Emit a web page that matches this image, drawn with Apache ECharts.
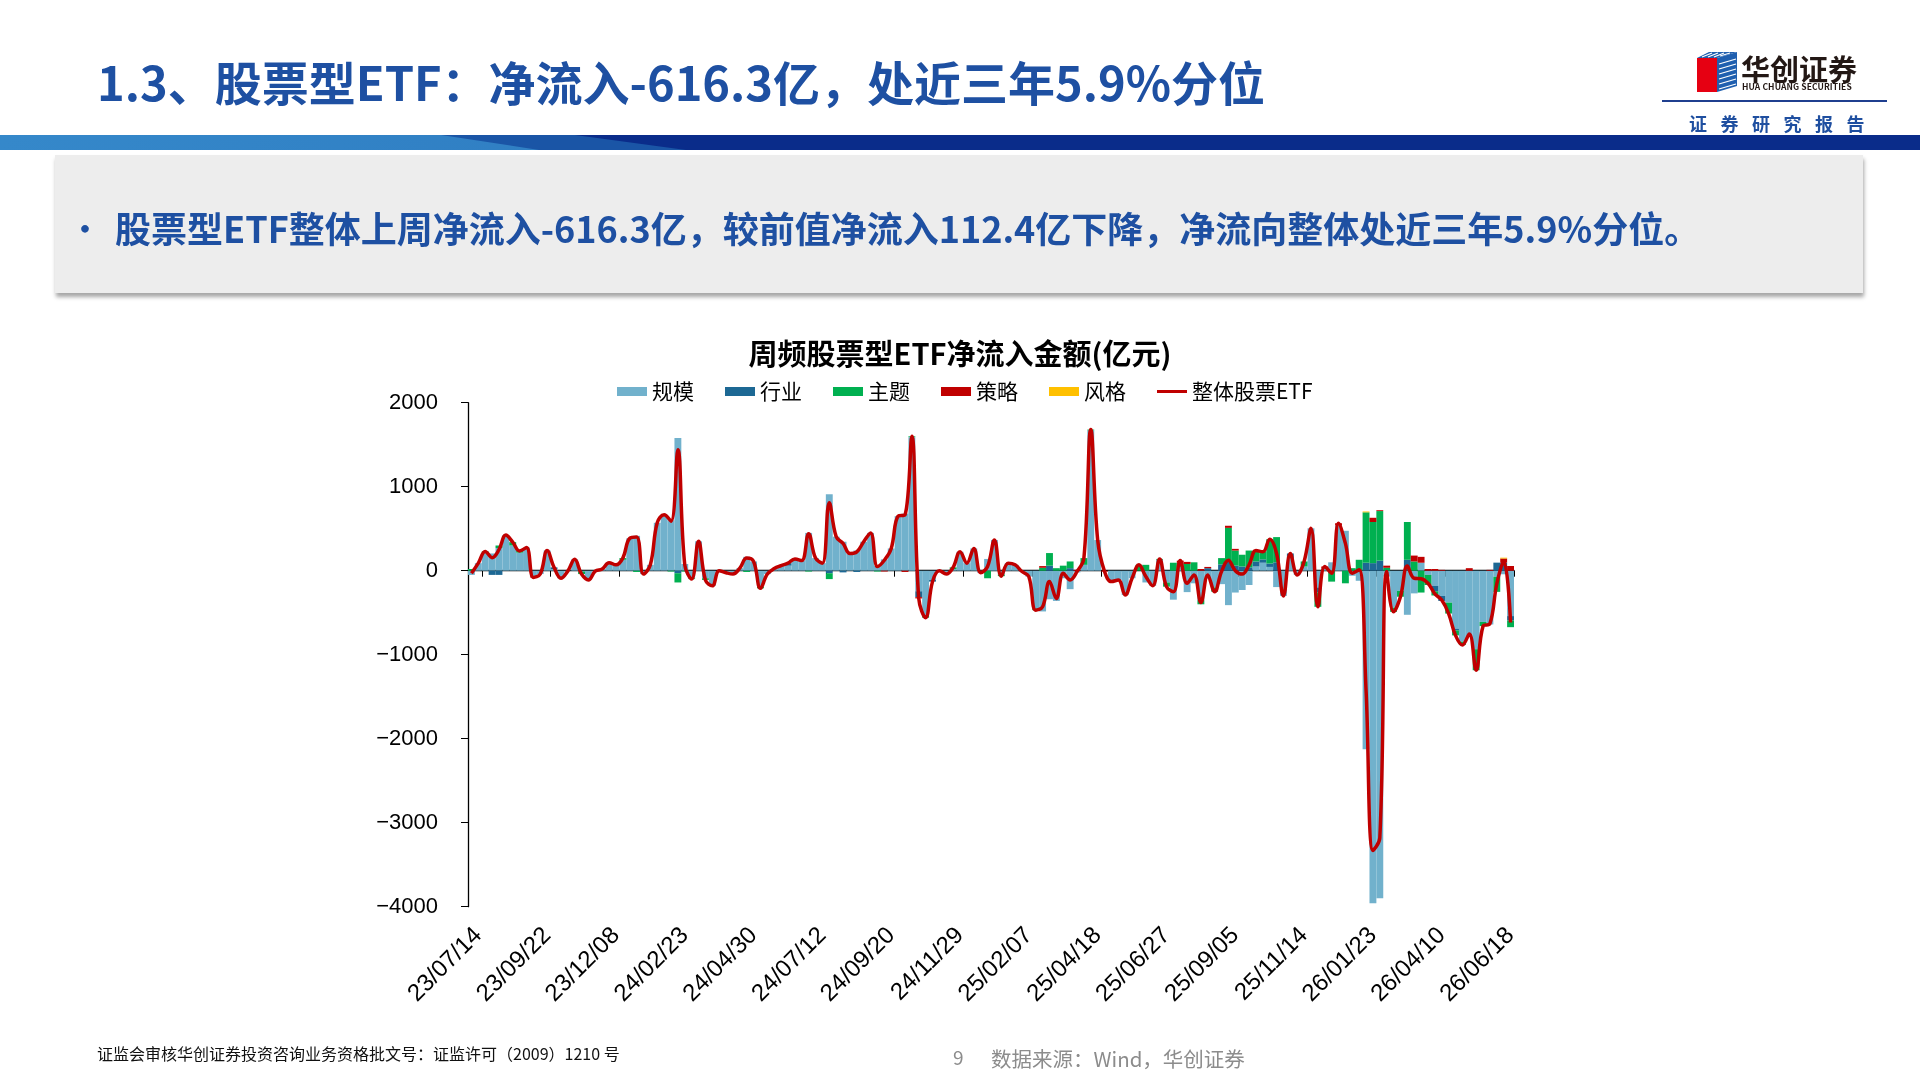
<!DOCTYPE html>
<html><head><meta charset="utf-8">
<script src="https://cdn.jsdelivr.net/npm/echarts@6/dist/echarts.min.js"></script>
<style>
html,body{margin:0;padding:0;width:1920px;height:1080px;overflow:hidden;background:#fff;font-family:"Noto Sans CJK SC",sans-serif;}
#chart{position:absolute;left:0;top:0;width:1920px;height:1080px;}
.abs{position:absolute;white-space:nowrap;}
#title{left:97px;top:50px;font-size:47px;font-weight:bold;color:#1E50A2;line-height:62px;}
#band{left:0;top:135px;width:1920px;height:15px;background:#0A2C8A;overflow:hidden;}
#band .b1{position:absolute;left:0;top:0;width:1920px;height:15px;background:#1A55A6;clip-path:polygon(0 0,575px 0,686px 15px,0 15px);}
#band .b2{position:absolute;left:0;top:0;width:1920px;height:15px;background:linear-gradient(90deg,#3588CA,#2469B3);clip-path:polygon(0 0,441px 0,539px 15px,0 15px);}
#box{left:55px;top:155px;width:1808px;height:138px;background:#EDEDED;box-shadow:1px 4px 4px rgba(0,0,0,0.35);}
#bullet{left:70px;top:207px;font-size:30px;color:#1E50A2;font-weight:bold;line-height:40px;}
#btext{left:115px;top:203px;font-size:36px;font-weight:bold;color:#1E50A2;line-height:48px;}
#logoText{left:1741px;top:50px;font-size:29px;font-weight:bold;color:#231815;line-height:36px;}
#logoEn{left:1742px;top:81px;font-size:8.5px;font-weight:bold;color:#231815;line-height:10px;letter-spacing:0.1px;}
#logoLine{left:1662px;top:100px;width:225px;height:2px;background:#1F3F8F;}
#report{left:1689px;top:110px;font-size:18px;color:#1F4FA0;line-height:26px;letter-spacing:13.5px;font-weight:bold;}
#foot1{left:97px;top:1042px;font-size:16px;color:#111;line-height:22px;}
#page{left:953px;top:1045px;font-size:19px;color:#8C8C8C;line-height:24px;}
#src{left:991px;top:1046px;font-size:20.5px;color:#8C8C8C;line-height:24px;}
</style></head>
<body>
<div id="chart"></div>
<div class="abs" id="title">1.3、股票型ETF：净流入-616.3亿，处近三年5.9%分位</div>
<div class="abs" id="band"><div class="b1"></div><div class="b2"></div></div>
<div class="abs" id="box"></div>
<div class="abs" id="bullet">•</div>
<div class="abs" id="btext">股票型ETF整体上周净流入-616.3亿，较前值净流入112.4亿下降，净流向整体处近三年5.9%分位。</div>
<svg class="abs" style="left:1690px;top:48px;" width="52" height="48" viewBox="0 0 52 48">
  <polygon points="7,10 27,10 27,44 7,44" fill="#E60012"/>
  <polygon points="7,10 19,4 47,4 27,10" fill="#1F5FAF"/>
  <polygon points="27,10 47,4 47,38 27,44" fill="#1F5FAF"/>
  <g stroke="#fff" stroke-width="1.2">
    <line x1="29" y1="16" x2="46" y2="11"/><line x1="29" y1="21" x2="46" y2="16"/><line x1="29" y1="26" x2="46" y2="21"/><line x1="29" y1="31" x2="46" y2="26"/><line x1="29" y1="36" x2="46" y2="31"/><line x1="29" y1="41" x2="46" y2="36"/>
    <line x1="12" y1="9" x2="22" y2="5"/><line x1="18" y1="9" x2="28" y2="5"/><line x1="24" y1="9" x2="34" y2="5"/><line x1="30" y1="8" x2="40" y2="5"/>
  </g>
</svg>
<div class="abs" id="logoText">华创证券</div>
<div class="abs" id="logoEn">HUA CHUANG SECURITIES</div>
<div class="abs" id="logoLine"></div>
<div class="abs" id="report">证券研究报告</div>
<div class="abs" id="foot1">证监会审核华创证券投资咨询业务资格批文号：证监许可（2009）1210 号</div>
<div class="abs" id="page">9</div>
<div class="abs" id="src">数据来源：Wind，华创证券</div>
<script>
// tick labels shown every 10 weeks (category index 1, 11, 21, ...)
const tickLabels = ['23/07/14','23/09/22','23/12/08','24/02/23','24/04/30','24/07/12','24/09/20','24/11/29',
  '25/02/07','25/04/18','25/06/27','25/09/05','25/11/14','26/01/23','26/04/10','26/06/18'];
const seriesNames = ['规模','行业','主题','策略','风格','整体股票ETF'];
// 规模
const gm = [
-50,90,210,205,270,425,300,215,275,-70,
-40,240,20,-90,-5,135,-10,-110,-5,20,
95,70,130,385,415,-40,70,570,665,600,
1580,80,-90,350,-90,-180,0,-25,-40,30,
165,110,-190,-40,25,60,60,120,120,450,
150,90,910,405,345,205,240,345,450,60,
135,265,650,680,1590,-245,-530,-110,0,-40,
20,225,90,265,-25,140,365,-45,90,70,
-10,-70,-450,-485,-340,-360,-90,-220,-20,70,
1670,365,0,-130,-110,-290,-90,0,-140,-180,
130,-140,-345,45,-255,-150,-350,-95,-200,-160,
-410,-260,-230,-170,50,95,45,-195,-300,145,
-50,50,505,-200,30,100,540,475,-60,-120,
-2125,-3960,-3900,-70,-440,-240,-525,-270,95,-50,
-180,-300,-380,-690,-845,-785,-935,-610,-640,-72,
-42.6,-540.3];
// 行业
const hy = [
0,0,0,-50,-50,0,0,0,0,0,
0,0,20,0,0,0,0,0,0,0,
0,0,0,0,0,0,0,0,0,0,
-30,0,0,0,0,0,0,0,0,0,
0,0,0,0,0,0,30,20,0,0,
0,0,-30,0,-20,0,-15,0,0,0,
0,0,0,0,0,-70,0,-20,0,0,
0,0,0,0,0,0,0,0,0,0,
0,0,0,0,60,0,0,30,0,0,
0,0,0,0,0,0,0,0,0,0,
0,0,0,0,0,0,0,30,0,75,
110,60,50,40,60,40,40,100,0,60,
0,0,0,-60,0,0,0,0,0,0,
95,90,120,0,0,0,130,0,0,0,
-65,-60,0,-20,0,0,0,0,0,96,
95,-52];
// 主题
const zt = [
20,0,20,0,30,0,40,20,0,0,
0,0,0,0,0,0,-30,0,0,0,
0,0,20,0,-15,0,0,0,0,-10,
-110,-10,-10,0,-20,0,0,0,0,0,
-15,0,-20,0,0,0,0,0,0,-10,
0,0,-70,0,0,0,0,0,0,-10,
0,0,0,0,10,0,-30,0,0,0,
20,0,0,0,0,-90,0,-20,0,0,
0,0,-20,35,150,30,60,80,0,80,
10,0,0,0,0,0,0,70,70,0,
10,-50,95,50,80,100,-50,0,-50,75,
400,180,140,200,130,90,290,300,0,0,
0,60,0,-170,0,-130,0,-150,30,130,
600,490,590,35,-50,-70,450,110,-260,-120,
-50,0,-130,-60,-40,0,-250,-50,0,-180,
0,-80];
// 策略
const cl = [
0,0,0,0,0,0,0,0,0,-10,
0,0,0,0,0,0,0,0,0,0,
0,0,0,0,0,0,0,0,0,0,
0,0,0,0,0,0,0,0,0,0,
0,0,0,0,0,0,0,0,0,0,
0,0,0,0,0,0,0,0,0,0,
-10,0,0,-15,0,-15,0,0,0,0,
0,0,0,0,0,0,0,0,0,0,
0,0,0,20,0,0,0,0,10,0,
0,0,-10,0,0,0,0,0,0,0,
0,0,0,25,25,0,20,15,0,0,
25,20,0,0,0,0,0,0,0,0,
0,0,0,0,20,0,25,0,0,0,
0,50,10,25,0,0,0,70,70,20,
20,10,0,0,0,30,0,0,10,0,
50,56];
// 风格
const fg = [
0,0,0,0,0,0,0,0,0,0,
0,0,0,0,0,0,0,0,0,0,
0,0,0,0,0,0,0,0,0,0,
0,0,0,0,0,0,0,0,0,0,
0,0,0,0,0,0,0,0,0,0,
0,0,0,0,0,0,0,0,0,0,
0,0,0,0,0,0,0,0,0,0,
0,0,0,0,0,0,0,0,0,0,
0,0,0,0,0,0,0,0,0,0,
0,0,0,0,0,0,0,0,0,0,
0,0,0,0,0,0,0,0,0,0,
0,0,0,0,0,0,0,0,0,0,
0,0,0,0,0,0,0,0,0,0,
10,0,0,0,0,0,0,0,0,0,
0,0,0,0,0,0,0,0,0,0,
10,0];
// 整体股票ETF
const total = [
-30,90,230,155,250,425,340,235,275,-80,
-40,240,40,-90,-5,135,-40,-110,-5,20,
95,70,150,385,400,-40,70,570,665,590,
1440,70,-100,350,-110,-180,0,-25,-40,30,
150,110,-210,-40,25,60,90,140,120,440,
150,90,810,405,325,205,225,345,450,50,
125,265,650,665,1600,-330,-560,-130,0,-40,
40,225,90,265,-25,50,365,-65,90,70,
-10,-70,-470,-430,-130,-330,-30,-110,-10,150,
1680,365,-10,-130,-110,-290,-90,70,-70,-180,
140,-190,-250,120,-150,-50,-380,-50,-250,-10,
125,0,-40,70,240,225,375,205,-300,205,
-50,110,505,-430,50,-30,565,325,-30,10,
-1420,-3330,-3180,-10,-490,-310,55,-90,-95,-150,
-275,-350,-510,-770,-885,-755,-1185,-660,-630,-156,
112.4,-616.3];

const N = total.length;
const categories = [];
for (let i = 0; i < N; i++) {
  categories.push((i - 1) % 10 === 0 ? tickLabels[(i - 1) / 10] : ' ' + i);
}
const colors = ['#71B1CC','#1D6894','#00B050','#C00000','#FFC000','#C00000'];
const barData = [gm, hy, zt, cl, fg];
const series = barData.map((d, k) => ({
  name: seriesNames[k], type: 'bar', stack: 'all', data: d,
  xAxisIndex: 0, yAxisIndex: 0,
  barCategoryGap: '0%', barGap: '0%',
  itemStyle: {color: colors[k]}, emphasis: {disabled: true}
}));
series.push({
  name: seriesNames[5], type: 'line', data: total, xAxisIndex: 0, yAxisIndex: 0,
  smooth: 0.4, symbol: 'none', showSymbol: false, z: 5,
  lineStyle: {color: '#C00000', width: 3.5}, itemStyle: {color: '#C00000'}
});

const chart = echarts.init(document.getElementById('chart'), null, {renderer: 'canvas'});
chart.setOption({
  animation: false,
  title: {
    text: '周频股票型ETF净流入金额(亿元)', left: 'center', top: 334,
    textStyle: {fontFamily: 'Noto Sans CJK SC', fontWeight: 'bold', fontSize: 29, color: '#000'}
  },
  legend: {
    left: 612, top: 376, itemWidth: 30, itemHeight: 9, itemGap: 31,
    data: [
      {name: '规模', icon: 'rect'}, {name: '行业', icon: 'rect'}, {name: '主题', icon: 'rect'},
      {name: '策略', icon: 'rect'}, {name: '风格', icon: 'rect'},
      {name: '整体股票ETF', icon: 'path://M0,0L40,0L40,4L0,4Z'}
    ],
    textStyle: {fontFamily: 'Noto Sans CJK SC', fontSize: 21, color: '#000'}
  },
  grid: {left: 468, right: 406, top: 402.7, bottom: 173.3, containLabel: false},
  xAxis: [{
    type: 'category', data: categories, position: 'bottom',
    axisLine: {onZero: true, lineStyle: {color: '#000', width: 1.3}},
    axisTick: {show: true, length: 6, interval: (i) => i % 10 === 2, lineStyle: {color: '#000'}},
    axisLabel: {show: false}
  }, {
    type: 'category', data: categories, position: 'bottom',
    axisLine: {show: false, onZero: false}, axisTick: {show: false},
    axisLabel: {
      show: true, interval: (i) => (i - 1) % 10 === 0, rotate: 45, margin: 25,
      fontFamily: 'Liberation Sans', fontSize: 24, color: '#000'
    }
  }],
  yAxis: {
    type: 'value', min: -4000, max: 2000, interval: 1000,
    axisLine: {show: true, lineStyle: {color: '#000', width: 1.3}},
    axisTick: {show: true, length: 7, lineStyle: {color: '#000'}},
    splitLine: {show: false},
    axisLabel: {
      margin: 30, fontFamily: 'Liberation Sans', fontSize: 22, color: '#000',
      formatter: (v) => String(v).replace('-', '\u2212')
    }
  },
  series: series
});
</script>
</body></html>
